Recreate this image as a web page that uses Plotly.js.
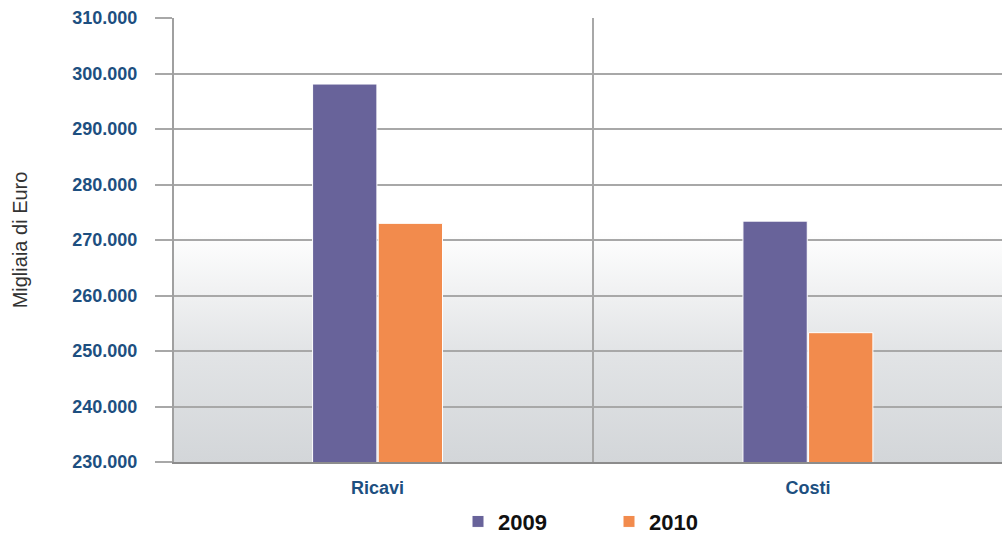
<!DOCTYPE html>
<html><head><meta charset="utf-8">
<script src="https://cdn.plot.ly/plotly-3.0.1.min.js"></script>
<style>html,body{margin:0;padding:0;background:#fff}#chart{width:1002px;height:535px}</style>
</head><body><div id="chart"></div>
<script>
var categories = ["Ricavi", "Costi"];
var values2009 = [298100, 273400];
var values2010 = [273000, 253300];
var seriesNames = ["2009", "2010"];
var yTicks = [230000, 240000, 250000, 260000, 270000, 280000, 290000, 300000, 310000];

var bgSvg = '<svg xmlns="http://www.w3.org/2000/svg" width="100" height="100" preserveAspectRatio="none">' +
  '<defs><linearGradient id="g" x1="0" y1="0" x2="0" y2="1">' +
  '<stop offset="0" stop-color="#ffffff"/><stop offset="0.48" stop-color="#ffffff"/>' +
  '<stop offset="0.75" stop-color="#e2e4e6"/><stop offset="1" stop-color="#d3d6d9"/>' +
  '</linearGradient></defs><rect width="100" height="100" fill="url(#g)"/></svg>';

var traces = [
  {type: 'bar', name: seriesNames[0], x: categories, y: values2009,
   marker: {color: '#68639a', line: {color: '#ffffff', width: 1}}},
  {type: 'bar', name: seriesNames[1], x: categories, y: values2010,
   marker: {color: '#f28b4d', line: {color: '#ffffff', width: 1}}}
];

var layout = {
  width: 1002, height: 535,
  margin: {l: 174, r: 0, t: 18, b: 73, autoexpand: false},
  paper_bgcolor: '#ffffff',
  plot_bgcolor: 'rgba(0,0,0,0)',
  separators: ',.',
  barmode: 'group',
  bargap: 0.695,
  bargroupgap: 0.02,
  showlegend: true,
  legend: {orientation: 'h', x: 0.343, xanchor: 'left', y: -0.087, yanchor: 'top',
    font: {family: 'Liberation Sans, Arial', size: 22, color: '#111111', weight: 'bold'},
    entrywidth: 106, bgcolor: 'rgba(0,0,0,0)'},
  xaxis: {type: 'category', range: [-0.473, 1.451], tickson: 'boundaries', automargin: false,
    showgrid: true, gridcolor: '#a8a8a8', gridwidth: 2,
    ticks: '', showline: true, linecolor: '#8c8c8c', linewidth: 2,
    tickfont: {family: 'Liberation Sans, Arial', size: 18, color: '#1d4f80', weight: 'bold'},
    ticklabelstandoff: 8, zeroline: false},
  yaxis: {range: [230000, 310000], tickvals: yTicks, tickformat: ',d', automargin: false,
    showgrid: true, gridcolor: '#a8a8a8', gridwidth: 2,
    ticks: 'outside', ticklen: 17, tickwidth: 2, tickcolor: '#a8a8a8',
    showline: true, linecolor: '#a0a0a0', linewidth: 2, zeroline: false,
    ticklabelstandoff: 14,
    tickfont: {family: 'Liberation Sans, Arial', size: 18, color: '#1d4f80', weight: 'bold'},
    title: {text: 'Migliaia di Euro', standoff: 39,
      font: {family: 'Liberation Sans, Arial', size: 20, color: '#333333'}}},
  images: [{source: 'data:image/svg+xml;charset=utf-8,' + encodeURIComponent(bgSvg),
    xref: 'paper', yref: 'paper', x: 0, y: 1, sizex: 1, sizey: 1,
    xanchor: 'left', yanchor: 'top', sizing: 'stretch', layer: 'below'}]
};

Plotly.newPlot('chart', traces, layout, {displayModeBar: false, staticPlot: true});
</script></body></html>
